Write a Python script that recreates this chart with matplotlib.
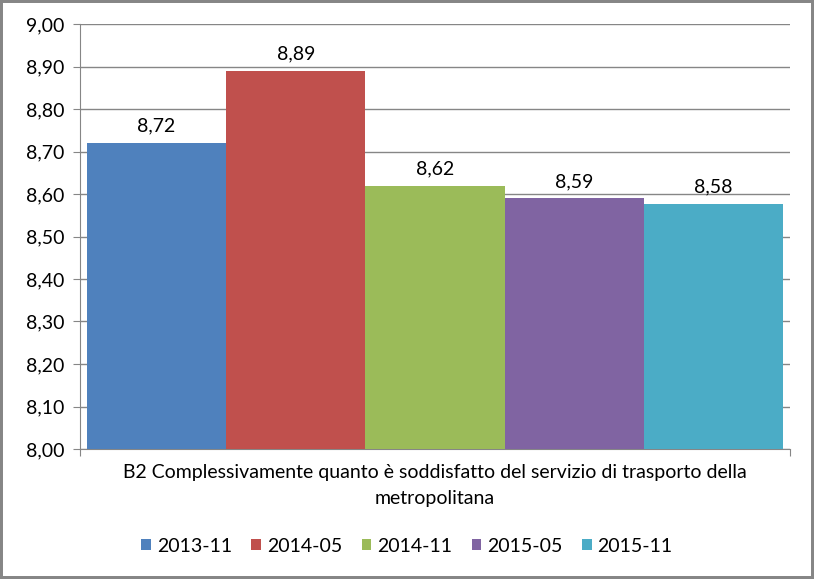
import matplotlib

matplotlib.use("Agg")
import matplotlib.pyplot as plt
from matplotlib.patches import Rectangle

SERIES = ["2013-11", "2014-05", "2014-11", "2015-05", "2015-11"]
VALUES = [8.72, 8.89, 8.62, 8.59, 8.576]
COLORS = ["#4F81BD", "#C0504D", "#9BBB59", "#8064A2", "#4BACC6"]
CATEGORY = "B2 Complessivamente quanto è soddisfatto del servizio di trasporto della\nmetropolitana"
YTICKS = [8.0 + 0.1 * i for i in range(11)]

plt.rcParams["font.family"] = ["Lato", "DejaVu Sans"]
GRID = "#868686"
FS = 14

W, H = 814, 579
fig = plt.figure(figsize=(W / 100, H / 100), dpi=100)
ax = fig.add_axes([80 / W, (H - 449) / H, 710 / W, 425 / H])

for i, (name, val, col) in enumerate(zip(SERIES, VALUES, COLORS)):
    ax.bar(i, val - 8.0, bottom=8.0, width=1.0, color=col, label=name, zorder=3)
    ax.annotate(f"{val:.2f}".replace(".", ","), (i, val), xytext=(0, 6),
                textcoords="offset points", ha="center", va="bottom", fontsize=FS)

ax.set_ylim(8.0, 9.0)
ax.set_xlim(-0.55, 4.55)
ax.set_yticks(YTICKS)
ax.set_yticklabels([f"{t:.2f}".replace(".", ",") for t in YTICKS], fontsize=FS)
ax.yaxis.grid(True, color=GRID, linewidth=1.0, zorder=0)
ax.tick_params(axis="y", length=5, color=GRID, pad=6)

ax.set_xticks([-0.55, 4.55])
ax.set_xticklabels(["", ""])
ax.tick_params(axis="x", which="major", length=5, color=GRID)
ax.set_xticks([2], minor=True)
ax.set_xticklabels([CATEGORY], minor=True, fontsize=FS, linespacing=1.62)
ax.tick_params(axis="x", which="minor", length=0, pad=11)

for side in ("top", "right"):
    ax.spines[side].set_visible(False)
for side in ("left", "bottom"):
    ax.spines[side].set_color(GRID)

fig.legend(loc="center", bbox_to_anchor=(0.5, (H - 546) / H), ncol=5, frameon=False,
           fontsize=FS, handlelength=0.5, handleheight=0.5, handletextpad=0.3,
           columnspacing=1.0)

fig.patches.append(Rectangle((0, 0), 1, 1, transform=fig.transFigure, fill=False,
                             edgecolor=GRID, linewidth=4.3))

fig.savefig("out.png", dpi=100)
